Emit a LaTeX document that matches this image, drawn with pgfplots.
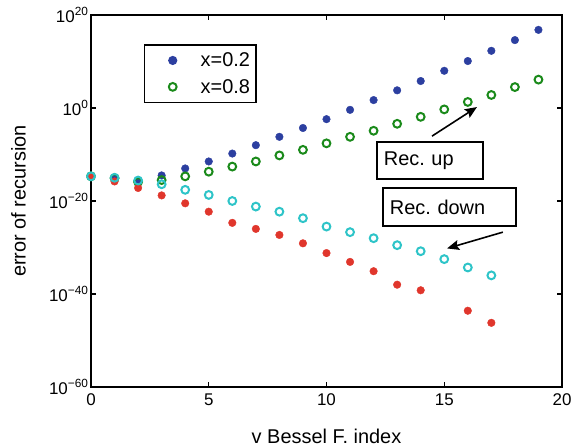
\documentclass[border=0pt]{standalone}
\usepackage{pgfplots}
\pgfplotsset{compat=1.18}
\usetikzlibrary{arrows.meta}
\usepackage{fontspec}
\setmainfont{Liberation Sans}
\definecolor{cblue}{HTML}{2C3FA0}
\definecolor{cgreen}{HTML}{1A8A1A}
\definecolor{cred}{HTML}{E0362C}
\definecolor{ccyan}{HTML}{2EC4C8}
\begin{document}
\begin{tikzpicture}
\begin{axis}[
  name=ax,
  scale only axis, width=471bp, height=372bp,
  xmin=0, xmax=20, ymin=-60, ymax=20,
  xtick={0,5,10,15,20},
  ytick={-60,-40,-20,0,20},
  yticklabels={10\textsuperscript{−60},10\textsuperscript{−40},10\textsuperscript{−20},10\textsuperscript{0},10\textsuperscript{20}},
  tick align=inside, major tick length=5bp,
  every tick/.style={black, line width=1.2pt},
  axis line style={line width=1.8pt},
  tick label style={font=\fontsize{17}{20}\selectfont},
  yticklabel style={xshift=1bp},
  xticklabel style={yshift=-3bp},
  /pgf/number format/assume math mode=true,
  xlabel={v Bessel F. index}, ylabel={error of recursion},
  label style={font=\fontsize{20}{24}\selectfont},
  xlabel style={at={(axis description cs:0.5,-0.132)}, anchor=center},
  ylabel style={at={(axis description cs:-0.154,0.5)}, anchor=center, rotate=0},
  legend style={at={(0.1125,0.922)}, anchor=north west, draw=black, line width=1.5pt,
     font=\fontsize{20}{24}\selectfont, inner xsep=3bp, inner ysep=5bp, row sep=5bp,
     column sep=3bp, nodes={inner sep=3bp}, cells={anchor=west}},
  legend image code/.code={\path[draw=none,fill=none] (0bp,-1bp) rectangle (47bp,1bp);
     \draw[mark repeat=2,mark phase=2,#1] plot coordinates {(0bp,0bp)(25bp,0bp)(47bp,0bp)};},
]
\addplot[only marks, mark=*, mark size=3.8bp, draw=cblue, fill=cblue] coordinates {
(0,-14.7)(1,-15.0)(2,-15.8)(3,-14.5)(4,-13.0)(5,-11.5)(6,-9.8)(7,-8.0)(8,-6.2)(9,-4.3)
(10,-2.4)(11,-0.4)(12,1.7)(13,3.8)(14,5.8)(15,8.0)(16,10.1)(17,12.3)(18,14.6)(19,16.8)};
\addlegendentry{x=0.2}
\addplot[only marks, mark=o, mark size=3.9bp, line width=2pt, draw=cgreen] coordinates {
(0,-14.7)(1,-15.1)(2,-15.9)(3,-15.5)(4,-14.7)(5,-13.7)(6,-12.6)(7,-11.5)(8,-10.2)(9,-9.0)
(10,-7.6)(11,-6.2)(12,-4.9)(13,-3.4)(14,-1.9)(15,-0.3)(16,1.3)(17,2.8)(18,4.5)(19,6.1)};
\addlegendentry{x=0.8}
\addplot[only marks, mark=*, mark size=3.8bp, draw=cred, fill=cred, forget plot] coordinates {
(0,-14.7)(1,-15.8)(2,-17.2)(3,-18.8)(4,-20.5)(5,-22.3)(6,-24.7)(7,-26.0)(8,-27.3)(9,-29.1)
(10,-31.2)(11,-33.1)(12,-35.1)(13,-38.0)(14,-39.2)(16,-43.6)(17,-46.2)};
\addplot[only marks, mark=o, mark size=3.9bp, line width=2pt, draw=ccyan, forget plot] coordinates {
(0,-14.7)(1,-15.0)(2,-15.6)(3,-16.4)(4,-17.6)(5,-18.7)(6,-20.0)(7,-21.2)(8,-22.3)(9,-23.7)
(10,-25.5)(11,-26.7)(12,-28.0)(13,-29.5)(14,-30.8)(15,-32.5)(16,-34.3)(17,-36.0)};
\node[draw=black, line width=1.5pt, fill=white, minimum width=106bp, minimum height=37bp,
  font=\fontsize{20}{24}\selectfont, align=left, text width=92bp, inner xsep=7bp] at (axis cs:14.39,-11.3) {Rec.\ up};
\node[draw=black, line width=1.5pt, fill=white, minimum width=133bp, minimum height=38bp,
  font=\fontsize{20}{24}\selectfont, align=left, text width=119bp, inner xsep=7bp] at (axis cs:15.22,-21.3) {Rec.\ down};
\draw[-{Stealth[length=12bp,width=10bp,inset=2bp]}, line width=1.6pt] (axis cs:14.48,-6.05) -- (axis cs:16.39,0.2);
\draw[-{Stealth[length=12bp,width=10bp,inset=2bp]}, line width=1.6pt] (axis cs:17.49,-26.7) -- (axis cs:15.12,-30.2);
\end{axis}
\pgfresetboundingbox
\path ([shift={(-91bp,-61bp)}]ax.south west) rectangle ([shift={(10bp,15bp)}]ax.north east);
\end{tikzpicture}
\end{document}
